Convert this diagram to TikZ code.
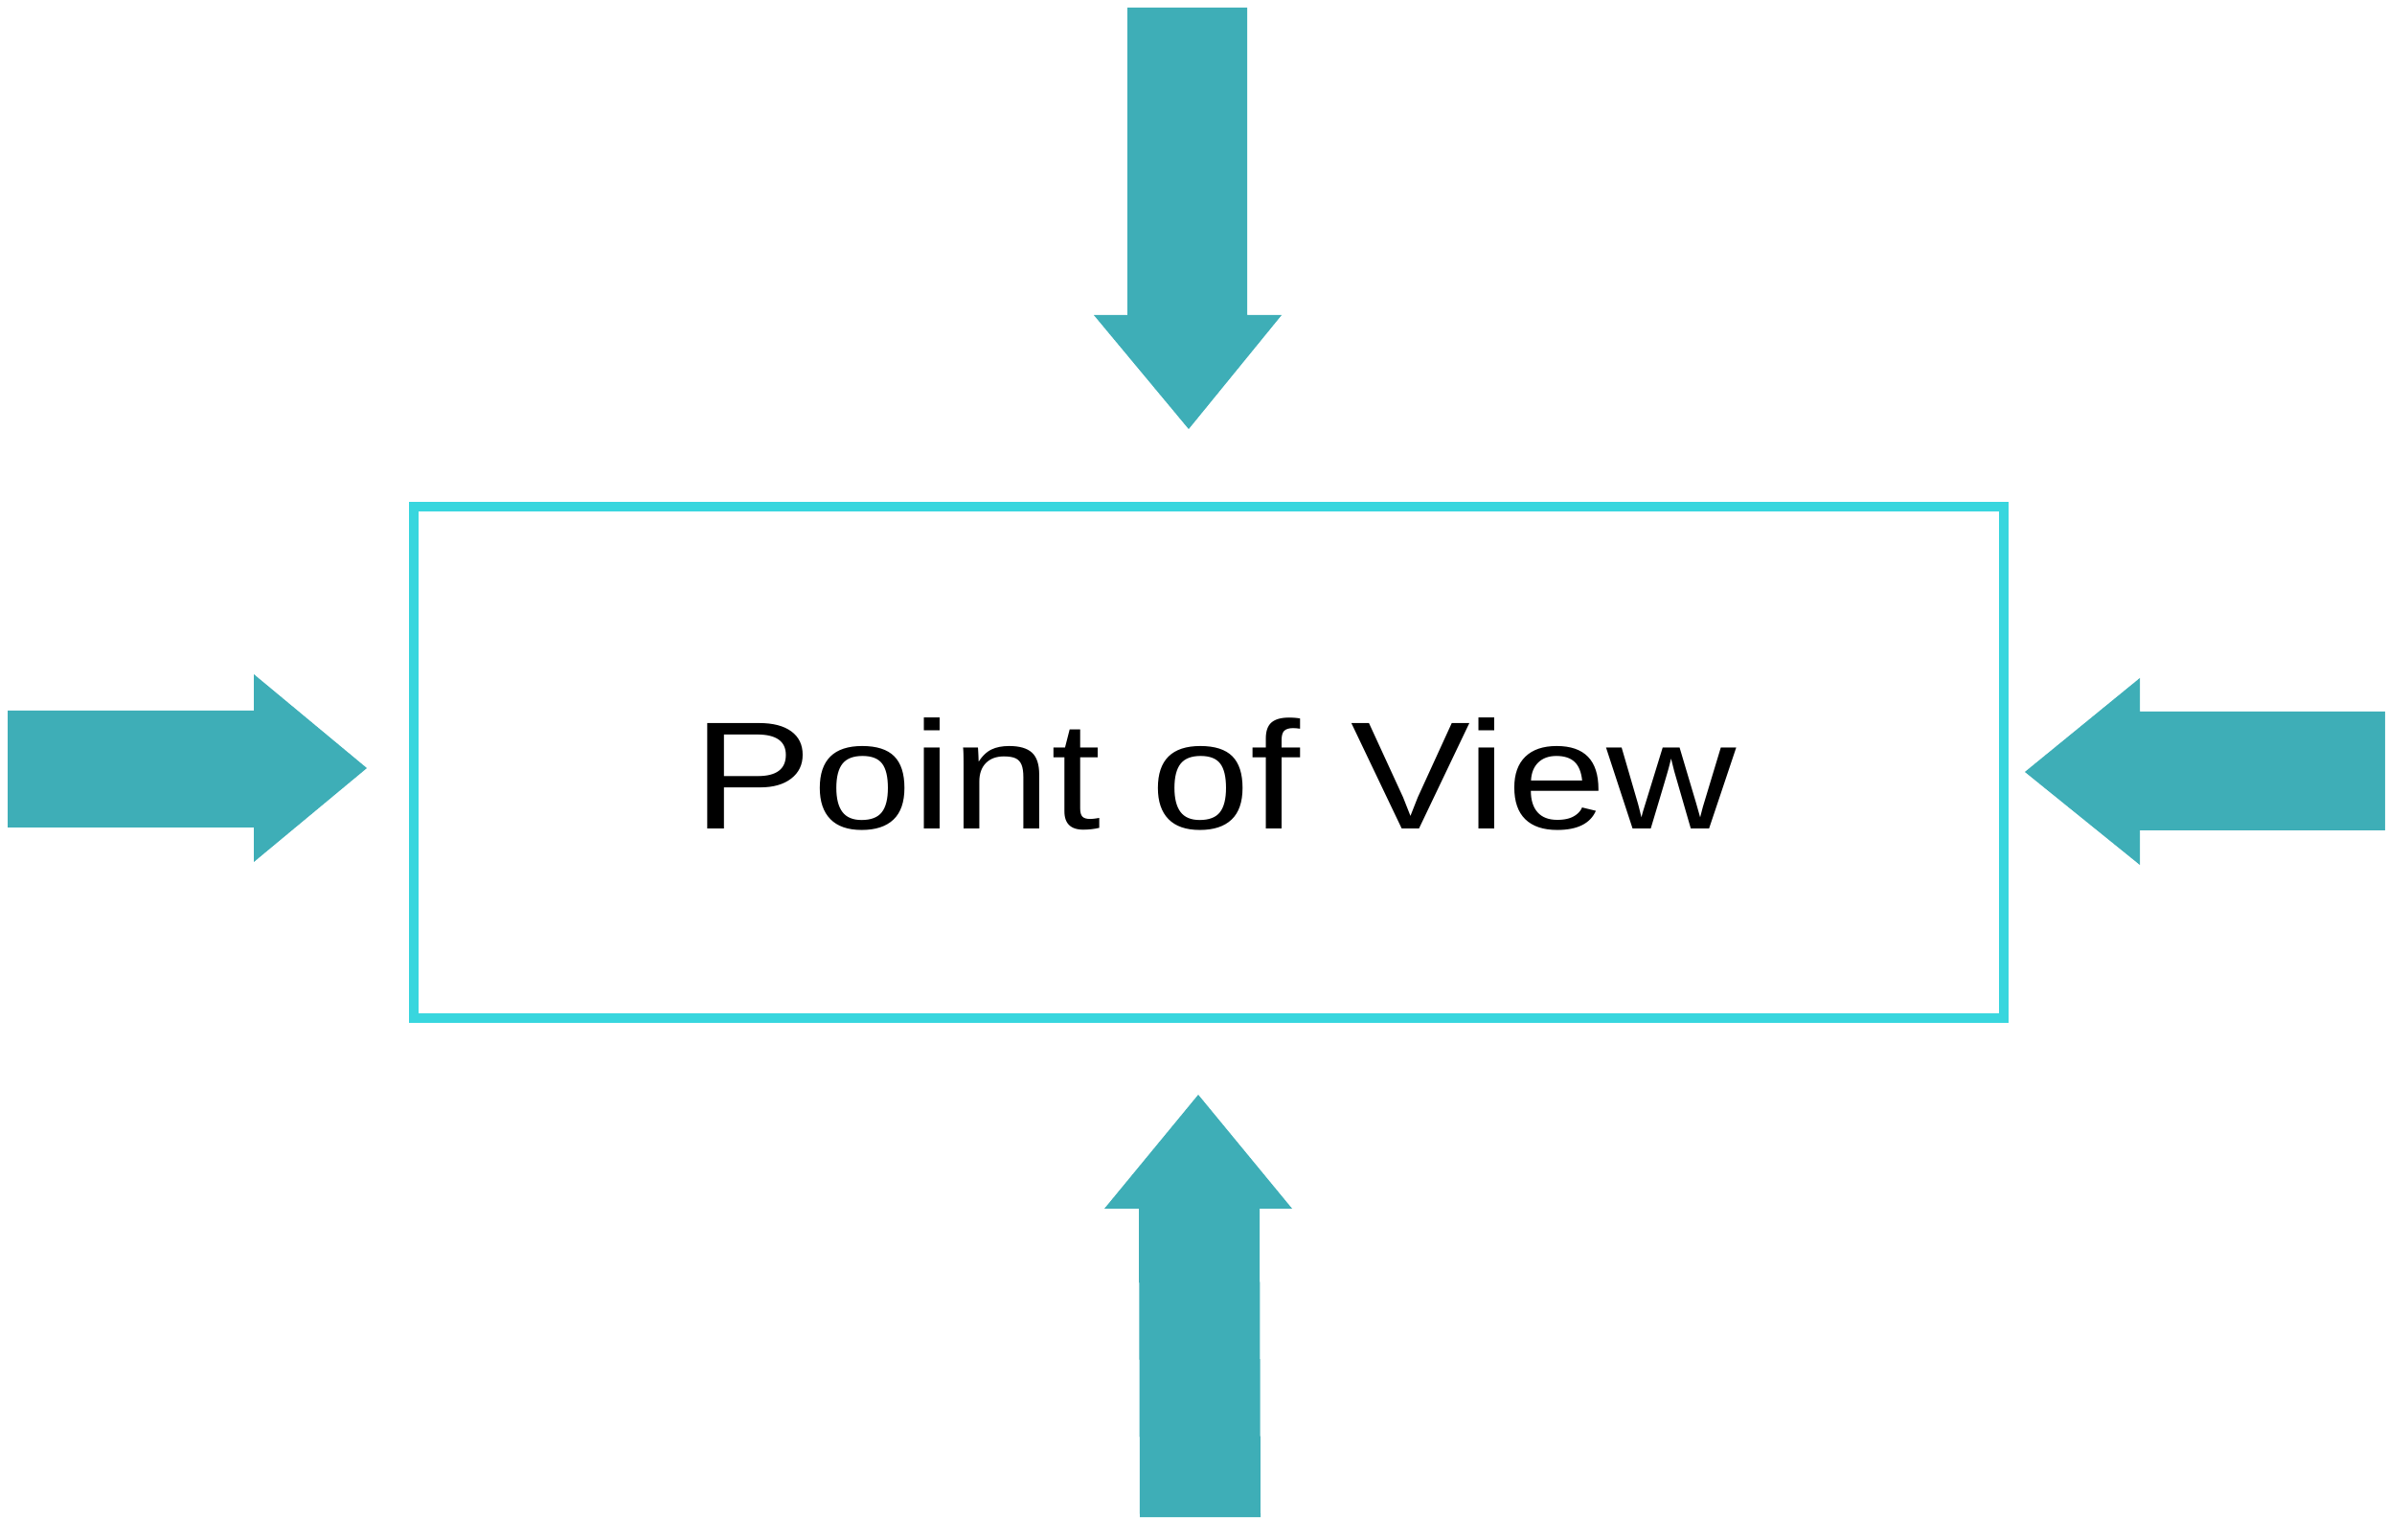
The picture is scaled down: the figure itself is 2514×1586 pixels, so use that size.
\documentclass[tikz,border=0pt]{standalone}
\usepackage{fontspec}
\setmainfont{Liberation Sans}
\usetikzlibrary{decorations.pathmorphing}
\definecolor{arrowteal}{RGB}{62,174,183}
\definecolor{boxcyan}{RGB}{56,214,222}
\begin{document}
\begin{tikzpicture}[x=0.01cm,y=-0.01cm,
  bigarrow/.style={fill=arrowteal,draw=none},
  framebox/.style={draw=boxcyan,line width=0.1cm,line join=miter},
  chalk/.style={draw=boxcyan,line width=0.04cm,decorate,decoration={random steps,segment length=4pt,amplitude=0.8pt}}]
\useasboundingbox (0,0) rectangle (2514,1586);
% frame
\draw[framebox] (432,529) rectangle (2092,1063);
\draw[chalk] (432,529) rectangle (2092,1063);
% label
\node[font=\fontsize{45.5}{52}\selectfont,xscale=1.17,anchor=base] (pov) at (1268,866) {Point of View};
% top arrow
\fill[bigarrow] (1177,8) -- (1302,8) -- (1302,329) -- (1338,329) -- (1241,448) -- (1142,329) -- (1177,329) -- cycle;
% bottom arrow
\fill[bigarrow] (1190,1584) -- (1316,1584) -- (1315,1262) -- (1349,1262) -- (1251,1143) -- (1153,1262) -- (1189,1262) -- cycle;
% left arrow
\fill[bigarrow] (8,742) -- (265,742) -- (265,704) -- (383,802) -- (265,900) -- (265,864) -- (8,864) -- cycle;
% right arrow
\fill[bigarrow] (2490,743) -- (2234,743) -- (2234,708) -- (2114,806) -- (2234,903) -- (2234,867) -- (2490,867) -- cycle;
\end{tikzpicture}
\end{document}
